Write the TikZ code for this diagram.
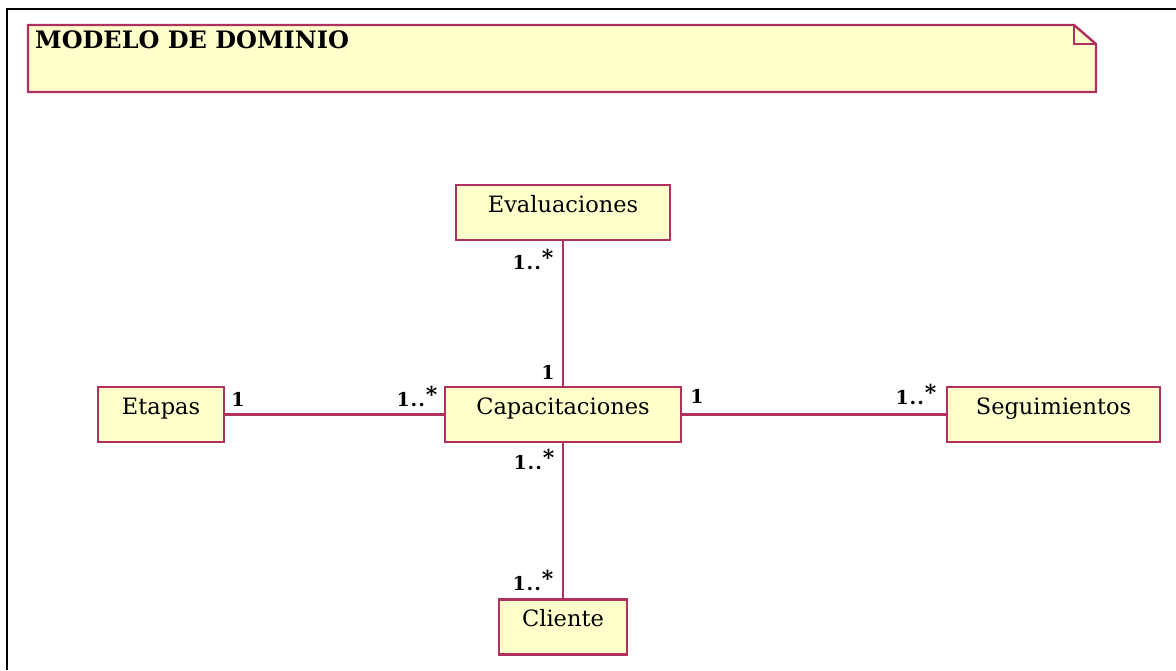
\documentclass[tikz,border=0pt]{standalone}
\usepackage{fontspec}
\setmainfont{DejaVu Serif}
\usetikzlibrary{positioning}
\definecolor{umlborder}{RGB}{176,48,96}
\definecolor{umlfill}{RGB}{255,255,204}
\newcommand{\unomuchos}{1\kern1pt.\kern1pt.\kern1pt\raisebox{4pt}{\fontsize{22}{22}\selectfont*}}

\begin{document}
\begin{tikzpicture}[x=1pt, y=-1pt,
  every node/.style={scale=1.0},
  clase/.style={rectangle, draw=umlborder, fill=umlfill, line width=2.4pt,
    inner xsep=0pt, inner ysep=0pt, text height=27pt, text depth=28pt,
    font=\fontsize{22.5}{26}\selectfont},
  mult/.style={inner sep=0pt, font=\fontsize{19}{21}\selectfont\bfseries},
  assoc/.style={draw=umlborder, line width=2.2pt}]
  \useasboundingbox (0,0) rectangle (1176,670);
  % marco
  \draw[line width=2.8pt] (7,670) -- (7,9) -- (1176,9);

  % nota del titulo
  \draw[umlborder, fill=umlfill, line width=2.4pt]
    (28,25) -- (1074,25) -- (1096,44) -- (1096,92) -- (28,92) -- cycle;
  \draw[umlborder, line width=2.4pt] (1074,25) -- (1074,44) -- (1096,44);
  \node[anchor=base west, inner sep=0pt, font=\fontsize{24}{27}\selectfont\bfseries] (titulo) at (35,48) {MODELO DE DOMINIO};

  % clases
  \node[clase, minimum width=214] (eval) at (563,212.5) {Evaluaciones};
  \node[clase, minimum width=236] (capa) at (563,414.5) {Capacitaciones};
  \node[clase, minimum width=126] (etapas) at (161,414.5) {Etapas};
  \node[clase, minimum width=213] (seg) at (1053.5,414.5) {Seguimientos};
  \node[clase, minimum width=128] (cliente) at (563,627) {Cliente};

  % asociaciones
  \draw[assoc] (eval) -- (capa);
  \draw[assoc] (etapas) -- (capa);
  \draw[assoc] (capa) -- (seg);
  \draw[assoc] (capa) -- (cliente);

  % multiplicidades
  \node[mult] (m1) at (533,259) {\unomuchos};
  \node[mult] (m2) at (548,372) {1};
  \node[mult] (m3) at (238,399) {1};
  \node[mult] (m4) at (417,396) {\unomuchos};
  \node[mult] (m5) at (697,396) {1};
  \node[mult] (m6) at (916,394) {\unomuchos};
  \node[mult] (m7) at (534,459) {\unomuchos};
  \node[mult] (m8) at (533,580) {\unomuchos};
\end{tikzpicture}
\end{document}
